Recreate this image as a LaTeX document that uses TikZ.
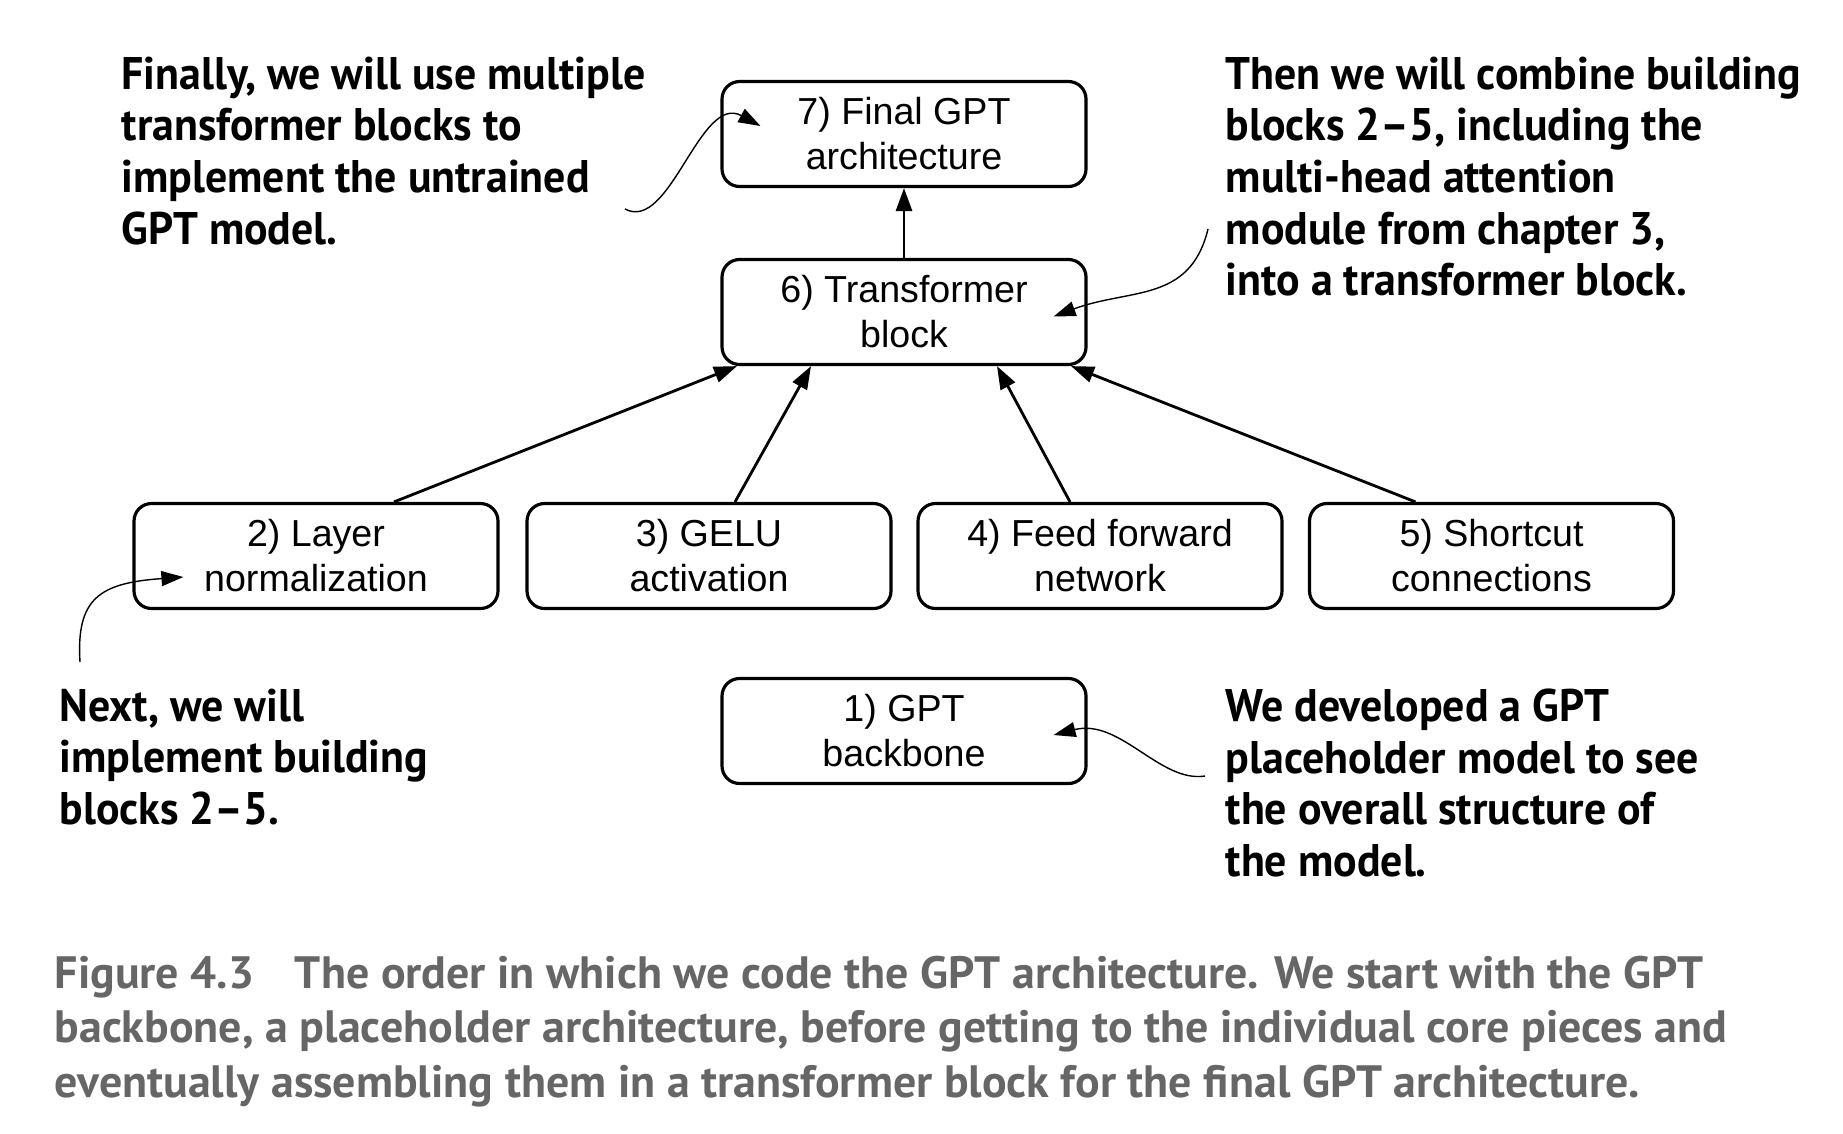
\documentclass[tikz,border=0pt]{standalone}
\usepackage{fontspec}
\setmainfont{Liberation Sans}
\newfontfamily\notefont{PT Sans}[FakeStretch=0.96]
\newfontfamily\capfont{PT Sans}[FakeStretch=1.013]
\usepackage{xcolor}
\usepackage{tikz}
\usetikzlibrary{arrows.meta}
\definecolor{capgray}{RGB}{102,102,102}

\begin{document}
\begin{tikzpicture}[
    box/.style={rectangle, rounded corners=5pt, draw=black, line width=0.9pt, minimum width=3.64cm, minimum height=1.05cm, align=center, font=\fontsize{10.7}{12.8}\selectfont},
    note/.style={anchor=north west, inner sep=0pt, align=left, font=\notefont\bfseries\fontsize{13}{14.7}\selectfont},
    caption/.style={anchor=north west, inner sep=0pt, align=left, text=capgray, font=\capfont\bfseries\fontsize{12.9}{15.6}\selectfont},
    arrow/.style={-{Triangle[length=2.3mm, width=1.6mm]}, line width=0.8pt},
    pointer/.style={-{Triangle[length=2.2mm, width=1.5mm]}, line width=0.4pt}
]
    \useasboundingbox (0,0) rectangle (18.43,11.33);

    % Nodes
    \node[box] (final) at (9.04, 9.99) {7) Final GPT\\architecture};
    \node[box] (trf) at (9.04, 8.21) {6) Transformer\\block};
    \node[box] (norm) at (3.16, 5.77) {2) Layer\\normalization};
    \node[box] (gelu) at (7.09, 5.77) {3) GELU\\activation};
    \node[box] (ffn) at (11.00, 5.77) {4) Feed forward\\network};
    \node[box] (short) at (14.915, 5.77) {5) Shortcut\\connections};
    \node[box] (backbone) at (9.04, 4.02) {1) GPT\\backbone};

    % Notes
    \node[note] (finalnote) at (1.21, 10.77) {Finally, we will use multiple\\transformer blocks to\\implement the untrained\\GPT model.};
    \node[note] (trfnote) at (12.25, 10.77) {Then we will combine building\\blocks 2–5, including the\\multi-head attention\\module from chapter 3,\\into a transformer block.};
    \node[note] (normnote) at (0.59, 4.45) {Next, we will\\implement building\\blocks 2–5.};
    \node[note] (backnote) at (12.25, 4.45) {We developed a GPT\\placeholder model to see\\the overall structure of\\the model.};
    \node[caption] (cap) at (0.54, 1.78) {Figure 4.3\hspace{0.9em}The order in which we code the GPT architecture. We start with the GPT\\backbone, a placeholder architecture, before getting to the individual core pieces and\\eventually assembling them in a transformer block for the final GPT architecture.};

    % Pointer ends
    \coordinate (finalfrom) at (6.25, 9.24);
    \coordinate (trffrom) at (12.08, 9.04);
    \coordinate (normfrom) at (0.80, 4.71);
    \coordinate (backfrom) at (12.05, 3.57);

    % Arrows
    \draw[arrow] (trf) -- (final);
    \draw[arrow] ([xshift=0.78cm]norm.north) -- ([xshift=-1.67cm]trf.south);
    \draw[arrow] ([xshift=0.26cm]gelu.north) -- ([xshift=-0.93cm]trf.south);
    \draw[arrow] ([xshift=-0.30cm]ffn.north) -- ([xshift=0.93cm]trf.south);
    \draw[arrow] ([xshift=-0.76cm]short.north) -- ([xshift=1.67cm]trf.south);

    \draw[pointer] (finalfrom) .. controls (6.7, 9.0) and (7.0, 10.4) .. ([shift={(0.40,0.08)}]final.west);
    \draw[pointer] (trffrom) .. controls (11.9, 8.3) and (11.3, 8.45) .. ([shift={(-0.34,-0.045)}]trf.east);
    \draw[pointer] (normfrom) .. controls (0.76, 5.35) and (1.0, 5.5) .. ([shift={(0.51,-0.21)}]norm.west);
    \draw[pointer] (backfrom) .. controls (11.6, 3.5) and (11.2, 4.15) .. ([shift={(-0.34,-0.04)}]backbone.east);
\end{tikzpicture}
\end{document}
